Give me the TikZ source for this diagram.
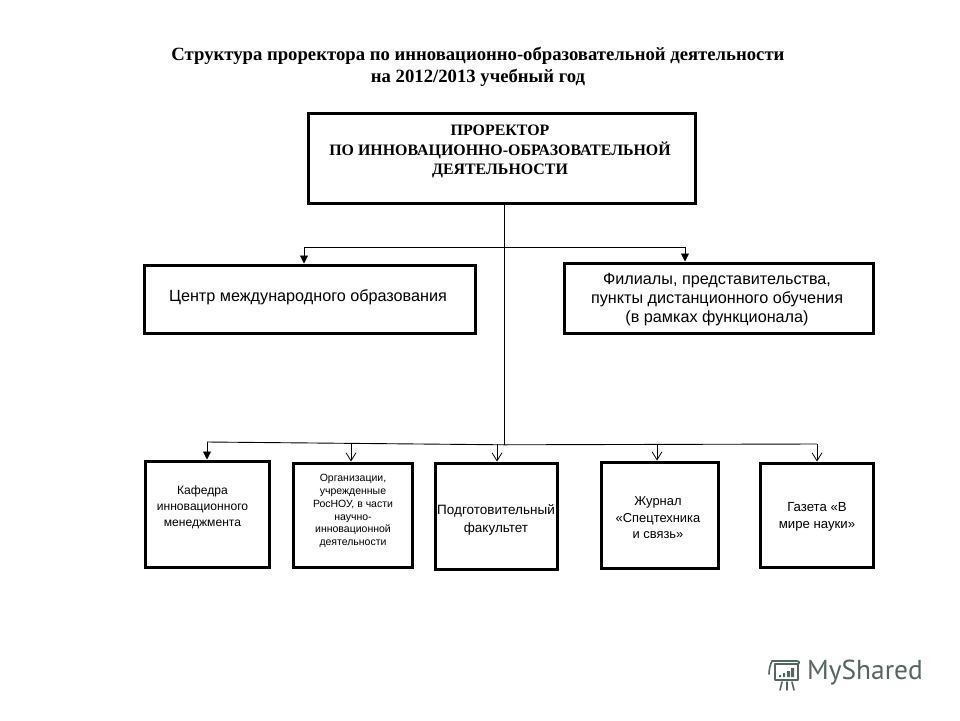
\documentclass[tikz,border=0pt]{standalone}
\usepackage{fontspec}
\setmainfont{Liberation Sans}
\newfontfamily\serifr{Liberation Serif}
\newfontfamily\logofont{PT Sans}
\usetikzlibrary{arrows.meta,calc}
\definecolor{logoc}{HTML}{55655F}
\tikzset{
 x=1pt,y=-1pt,
 orgbox/.style={draw=black,line width=3.3pt,fill=white,minimum width=#1,inner sep=0pt,align=center,anchor=north west,xshift=-1.5pt,yshift=1.5pt},
 wire/.style={draw=black,line width=0.9pt},
 solidtip/.style={wire,-{Triangle[length=8pt,width=8pt]}},
 opentip/.style={wire,-{Straight Barb[length=8pt,width=10pt,line width=0.8pt]}},
 heading/.style={font=\serifr\bfseries\fontsize{18.7}{22}\selectfont,align=center,text=black},
 bossText/.style={font=\serifr\bfseries\fontsize{15.9}{19.5}\selectfont,align=center},
 wideText/.style={font=\fontsize{16.2}{19}\selectfont,align=center},
 kafText/.style={font=\fontsize{12.1}{16}\selectfont,align=center},
 facText/.style={font=\fontsize{13.5}{18}\selectfont,align=center},
 jourText/.style={font=\fontsize{12.9}{16.5}\selectfont,align=center},
 gazText/.style={font=\fontsize{13.2}{17}\selectfont,align=center},
 tinyText/.style={font=\fontsize{10.5}{12.8}\selectfont,align=center},
 logoline/.style={draw=logoc,line width=1.6pt,line cap=round,line join=round},
}
\begin{document}
\begin{tikzpicture}
\useasboundingbox (0,0) rectangle (960,720);
\fill[white] (0,0) rectangle (960,720);

\node[heading] (title) at (478,67) {Структура проректора по инновационно-образовательной деятельности\\на 2012/2013 учебный год};

% boxes
\node[orgbox=387pt,minimum height=90pt] (boss) at (308,113) {};
\node[bossText] (bosst) at (500,151.5) {ПРОРЕКТОР\\ПО ИННОВАЦИОННО-ОБРАЗОВАТЕЛЬНОЙ\\ДЕЯТЕЛЬНОСТИ};
\node[orgbox=331pt,minimum height=68pt] (centre) at (144,265) {};
\node[wideText] (centret) at (308,297) {Центр международного образования};
\node[orgbox=309pt,minimum height=70pt] (branch) at (564,263) {};
\node[wideText] (brancht) at (717,300) {Филиалы, представительства,\\пункты дистанционного обучения\\(в рамках функционала)};
\node[orgbox=124pt,minimum height=106pt] (kaf) at (145,461) {};
\node[kafText] (kaft) at (202.5,507.5) {Кафедра\\инновационного\\менеджмента};
\node[orgbox=119pt,minimum height=104pt] (org) at (293,463) {};
\node[tinyText] (orgt) at (353,511) {Организации,\\учрежденные\\РосНОУ, в части\\научно-\\инновационной\\деятельности};
\node[orgbox=122pt,minimum height=106pt] (fac) at (435,463) {};
\node[facText] (fact) at (496,520) {Подготовительный\\факультет};
\node[orgbox=117pt,minimum height=106pt] (jour) at (601,462) {};
\node[jourText] (jourt) at (658,518) {Журнал\\«Спецтехника\\и связь»};
\node[orgbox=113pt,minimum height=104pt] (gaz) at (760,463) {};
\node[gazText] (gazt) at (817,517) {Газета «В\\мире науки»};

% connectors
\coordinate (top) at ($(boss.south west)!0.5065!(boss.south east)$);
\coordinate (upj) at ($(top)+(0,44)$);
\coordinate (lowj) at ($(top)+(0,240)$);
\coordinate (upl) at (304,247);
\coordinate (upr) at (685,247);
\coordinate (lowl) at (207,442);
\coordinate (lowo) at (351,443);
\coordinate (lowf) at (497,444);
\coordinate (lowk) at (657,444);
\coordinate (lowr) at (817,444);
\draw[wire] (top) -- (lowj);
\draw[wire] (upl) -- (upr);
\draw[solidtip] (upl) -- (upl |- centre.north);
\draw[solidtip] (upr) -- (upr |- branch.north);
\draw[wire] (lowl) -- (lowj) -- (lowr);
\draw[solidtip] (lowl) -- (lowl |- kaf.north);
\draw[opentip] (lowo) -- (lowo |- org.north);
\draw[opentip] (lowf) -- (lowf |- fac.north);
\draw[opentip] (lowk) -- (lowk |- jour.north);
\draw[opentip] (lowr) -- (lowr |- gaz.north);

% logo
\node[font=\logofont\fontsize{27.4}{27.4}\selectfont,text=logoc,anchor=west,inner sep=0pt] (logo) at (807,673) {MyShared};
\draw[logoline] (775,664) rectangle (798,680);
\draw[logoline] (772,661) .. controls (770,665) and (769,670) .. (769,674);
\draw[logoline] (772,661) -- (797,661) .. controls (800,661) and (800,664) .. (797,664);
\fill[logoc] (779,675) rectangle (781,677) (783,673) rectangle (785,677) (787,671) rectangle (790,677) (791,668) rectangle (794,677);
\draw[logoline] (782,682) -- (780,690) (787,682) -- (787,690) (792,682) -- (794,690);
\end{tikzpicture}
\end{document}
